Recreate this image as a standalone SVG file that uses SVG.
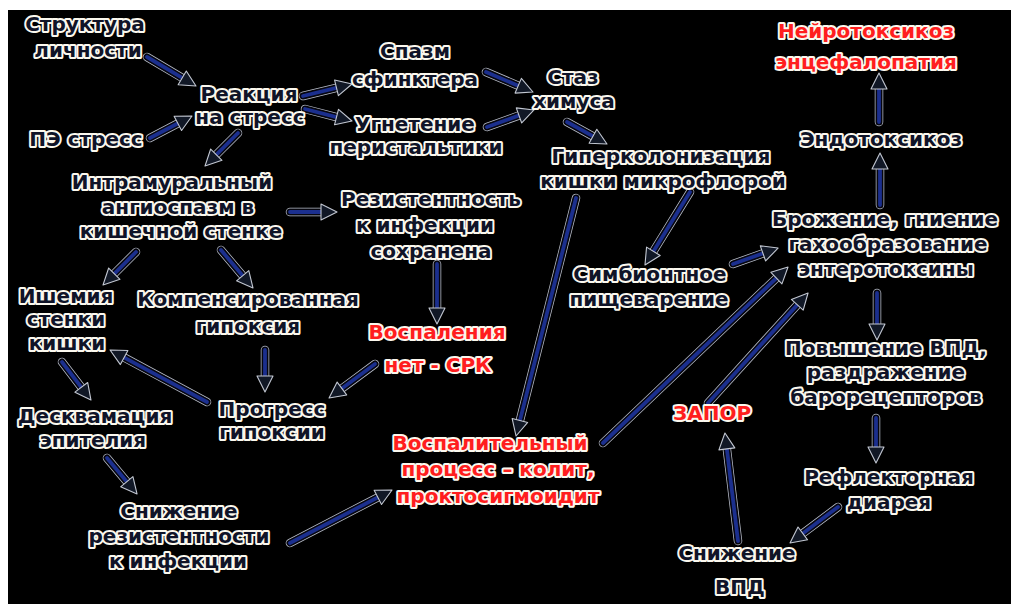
<svg xmlns="http://www.w3.org/2000/svg" xmlns:xlink="http://www.w3.org/1999/xlink" width="1011" height="604" viewBox="0 0 1011 604">
<style>
text{font-family:"DejaVu Sans","Liberation Sans",sans-serif;font-weight:bold;font-size:20px;text-anchor:middle;paint-order:stroke;stroke:#fbf8ee;stroke-width:4px;stroke-linejoin:round;fill:#101428}
text.r{fill:#ff1e1e}
.halo{fill:none;stroke:#b9bec9;stroke-width:8.5;stroke-linecap:round}
.edge{fill:none;stroke:#06060e;stroke-width:7;stroke-linecap:round}
.core{fill:none;stroke:#1b2f8e;stroke-width:3.8;stroke-linecap:round;marker-end:url(#ah)}
</style>
<defs>
<marker id="ah" markerUnits="userSpaceOnUse" markerWidth="20" markerHeight="20" refX="3" refY="8" orient="auto" overflow="visible">
<path d="M0,0 L16,8 L0,16 z" fill="#111826" stroke="#c3c8d2" stroke-width="1.1" stroke-linejoin="round"/>
</marker>
</defs>
<rect x="0" y="0" width="1011" height="604" fill="#ffffff"/>
<rect x="8" y="10" width="1003" height="594" fill="#000000"/>

<g id="connectors">
<g class="halo">
<use href="#a1"/><use href="#a2"/><use href="#a3"/><use href="#a4"/><use href="#a5"/><use href="#a6"/><use href="#a7"/><use href="#a8"/><use href="#a9"/><use href="#a10"/><use href="#a11"/><use href="#a12"/><use href="#a13"/><use href="#a14"/><use href="#a15"/><use href="#a16"/><use href="#a17"/><use href="#a18"/><use href="#a19"/><use href="#a20"/><use href="#a21"/><use href="#a22"/><use href="#a23"/><use href="#a24"/><use href="#a25"/><use href="#a26"/><use href="#a27"/><use href="#a28"/><use href="#a29"/>
</g>
<g class="edge">
<path id="a1" d="M147,57 L184.8,79.4"/>
<path id="a2" d="M150,138 L180.5,122"/>
<path id="a3" d="M303,96 L339.4,87.1"/>
<path id="a4" d="M305,109 L339.4,117.8"/>
<path id="a5" d="M486,72 L521,86.9"/>
<path id="a6" d="M487,127 L521.8,114.4"/>
<path id="a7" d="M567,122 L595.6,137.7"/>
<path id="a8" d="M238,133 L214.2,156.8"/>
<path id="a9" d="M290,212 L324,212"/>
<path id="a10" d="M136,252 L112.2,275.8"/>
<path id="a11" d="M221,250 L244.6,278"/>
<path id="a12" d="M437,264 L437,311"/>
<path id="a13" d="M265,350 L265,379"/>
<path id="a14" d="M207,402 L121.5,356.1"/>
<path id="a15" d="M375,364 L339.5,390.3"/>
<path id="a16" d="M62,362 L83.1,389.7"/>
<path id="a17" d="M107,458 L128.7,484"/>
<path id="a18" d="M290,543 L380.5,496"/>
<path id="a19" d="M576,198 L519.2,423.4"/>
<path id="a20" d="M690,192 L651.8,253.9"/>
<path id="a21" d="M733,264 L765.8,252.4"/>
<path id="a22" d="M603,443 L778.6,276"/>
<path id="a23" d="M708,403 L799.3,302.6"/>
<path id="a24" d="M880,205 L880,166"/>
<path id="a25" d="M879,122 L879,86"/>
<path id="a26" d="M877,293 L877,327"/>
<path id="a27" d="M876,418 L876,450"/>
<path id="a28" d="M838,507 L800.4,535.2"/>
<path id="a29" d="M738,541 L726.5,445.9"/>
</g>
<g class="core">
<use href="#a1"/><use href="#a2"/><use href="#a3"/><use href="#a4"/><use href="#a5"/><use href="#a6"/><use href="#a7"/><use href="#a8"/><use href="#a9"/><use href="#a10"/><use href="#a11"/><use href="#a12"/><use href="#a13"/><use href="#a14"/><use href="#a15"/><use href="#a16"/><use href="#a17"/><use href="#a18"/><use href="#a19"/><use href="#a20"/><use href="#a21"/><use href="#a22"/><use href="#a23"/><use href="#a24"/><use href="#a25"/><use href="#a26"/><use href="#a27"/><use href="#a28"/><use href="#a29"/>
</g>
</g>

<g id="n-struktura"><text><tspan x="85" y="31">Структура</tspan><tspan x="88" y="57">личности</tspan></text></g>
<g id="n-reakciya"><text><tspan x="249" y="101">Реакция</tspan><tspan x="250" y="124">на стресс</tspan></text></g>
<g id="n-pe"><text x="86" y="146">ПЭ стресс</text></g>
<g id="n-spazm"><text><tspan x="415" y="58">Спазм</tspan><tspan x="415" y="86">сфинктера</tspan></text></g>
<g id="n-ugnetenie"><text><tspan x="415" y="131">Угнетение</tspan><tspan x="416" y="154">перистальтики</tspan></text></g>
<g id="n-staz"><text><tspan x="573" y="84">Стаз</tspan><tspan x="574" y="108">химуса</tspan></text></g>
<g id="n-giper"><text><tspan x="661" y="163">Гиперколонизация</tspan><tspan x="663" y="188">кишки микрофлорой</tspan></text></g>
<g id="n-intra"><text><tspan x="172" y="189">Интрамуральный</tspan><tspan x="178" y="214">ангиоспазм в</tspan><tspan x="181" y="238">кишечной стенке</tspan></text></g>
<g id="n-rezist"><text><tspan x="431" y="206">Резистентность</tspan><tspan x="425" y="232">к инфекции</tspan><tspan x="431" y="258">сохранена</tspan></text></g>
<g id="n-ishemiya"><text><tspan x="66" y="303">Ишемия</tspan><tspan x="66" y="326">стенки</tspan><tspan x="67" y="350">кишки</tspan></text></g>
<g id="n-komp"><text><tspan x="248" y="306">Компенсированная</tspan><tspan x="248" y="333">гипоксия</tspan></text></g>
<g id="n-vospaleniya"><text class="r"><tspan x="437" y="339">Воспаления</tspan><tspan x="438" y="372">нет - СРК</tspan></text></g>
<g id="n-simbiont"><text><tspan x="650" y="281">Симбионтное</tspan><tspan x="649" y="306">пищеварение</tspan></text></g>
<g id="n-neyro"><text class="r"><tspan x="866" y="38">Нейротоксикоз</tspan><tspan x="866" y="69">энцефалопатия</tspan></text></g>
<g id="n-endo"><text x="881" y="146">Эндотоксикоз</text></g>
<g id="n-brozhenie"><text><tspan x="885" y="226">Брожение, гниение</tspan><tspan x="888" y="251">гахообразование</tspan><tspan x="886" y="276">энтеротоксины</tspan></text></g>
<g id="n-povyshenie"><text><tspan x="886" y="355">Повышение ВПД,</tspan><tspan x="886" y="379">раздражение</tspan><tspan x="886" y="404">барорецепторов</tspan></text></g>
<g id="n-reflektor"><text><tspan x="889" y="484">Рефлекторная</tspan><tspan x="889" y="509">диарея</tspan></text></g>
<g id="n-snizh-vpd"><text><tspan x="737" y="560">Снижение</tspan><tspan x="740" y="594">ВПД</tspan></text></g>
<g id="n-zapor"><text class="r" x="712" y="420">ЗАПОР</text></g>
<g id="n-progress"><text><tspan x="272" y="416">Прогресс</tspan><tspan x="272" y="439">гипоксии</tspan></text></g>
<g id="n-deskv"><text><tspan x="95" y="423">Десквамация</tspan><tspan x="93" y="447">эпителия</tspan></text></g>
<g id="n-snizh-rez"><text><tspan x="179" y="518">Снижение</tspan><tspan x="179" y="543">резистентности</tspan><tspan x="178" y="568">к инфекции</tspan></text></g>
<g id="n-vospalit"><text class="r"><tspan x="490" y="450">Воспалительный</tspan><tspan x="498" y="476">процесс – колит,</tspan><tspan x="498" y="503">проктосигмоидит</tspan></text></g>
</svg>
